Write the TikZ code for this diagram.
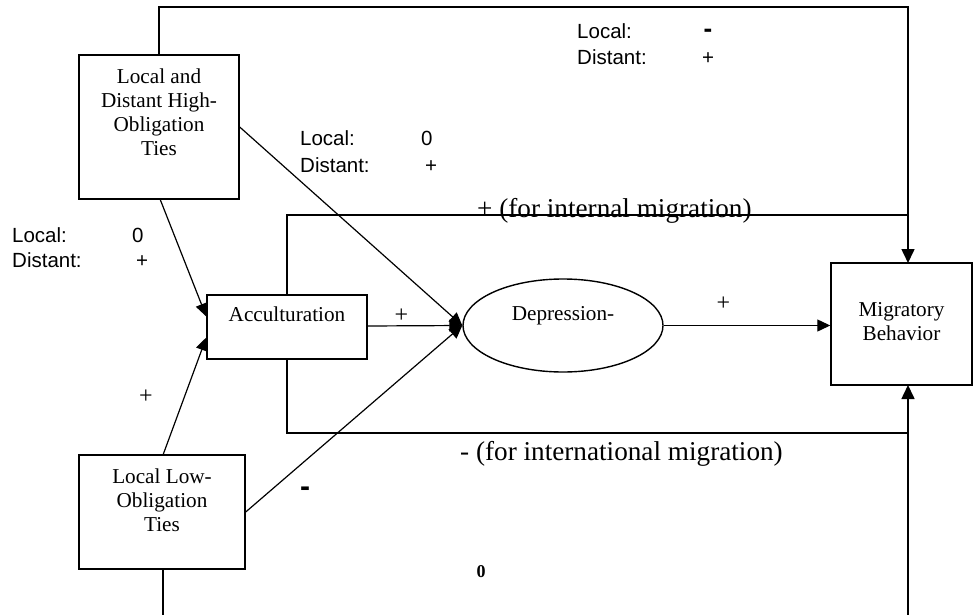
\documentclass[tikz,border=0pt]{standalone}
\usepackage{fontspec}
\setmainfont{Liberation Serif}
\newfontfamily\arialf{Liberation Sans}
\usetikzlibrary{arrows.meta,calc,shapes.geometric}
\begin{document}
\begin{tikzpicture}[x=1pt,y=-1pt,
 boxst/.style={draw,line width=1.4pt,inner sep=0pt},
 boxtext/.style={align=center,font=\fontsize{21.2}{24.2}\selectfont,inner sep=0pt,anchor=north},
 lbl/.style={font=\arialf\fontsize{20.5}{22}\selectfont,inner sep=0pt,anchor=base west},
 sgn/.style={font=\fontsize{24}{26}\selectfont,inner sep=0pt},
 bdash/.style={font=\arialf\bfseries\fontsize{26}{28}\selectfont,inner sep=0pt},
 biglbl/.style={font=\fontsize{27.2}{30}\selectfont,inner sep=0pt,anchor=base west},
 conn/.style={line width=1.2pt},
 thick conn/.style={line width=1.6pt},
 arr/.style={conn,-{Triangle[length=13pt,width=12pt]}},
 thick arr/.style={thick conn,-{Triangle[length=14pt,width=13pt]}}
]
\useasboundingbox (0,0) rectangle (974,615);

% boxes
\node[boxst,minimum width=160pt,minimum height=144pt] (hi) at (159,127) {};
\node[boxtext] (hitxt) at ($(hi.north)+(0,14)$) {Local and\\Distant High-\\Obligation\\Ties};
\node[boxst,minimum width=160pt,minimum height=64pt] (acc) at (287,327) {};
\node[boxtext] (acctxt) at ($(acc.north)+(0,12)$) {Acculturation};
\node[boxst,ellipse,minimum width=200pt,minimum height=93pt] (ell) at (563,325.5) {};
\node[boxtext,anchor=base] (elltxt) at (563,320) {Depression-};
\node[boxst,minimum width=141pt,minimum height=122pt] (mig) at (901.5,324) {};
\node[boxtext] (migtxt) at ($(mig.north)+(0,40)$) {Migratory\\Behavior};
\node[boxst,minimum width=166pt,minimum height=114pt] (lo) at (162,512) {};
\node[boxtext] (lotxt) at ($(lo.north)+(0,14)$) {Local Low-\\Obligation\\Ties};

% helper coordinates
\coordinate (tl) at (159,7);
\coordinate (tr) at (908,7);
\coordinate (migtop) at (908,263);
\coordinate (migbot) at (908,385);
\coordinate (bot1) at (163,615);
\coordinate (bot2) at (908,615);
\coordinate (inA) at ($(acc.north west)!0.34!(acc.south west)$);
\coordinate (inB) at ($(acc.north west)!0.66!(acc.south west)$);
\coordinate (intR) at (908,215);
\coordinate (intlR) at (908,433);

% connectors
\draw[thick arr] (hi.north) -- (tl) -- (tr) -- (migtop);
\draw[arr] (160,199) -- (inA);
\draw[arr] (hi.east |- 0,127) -- (ell.west);
\draw[arr] (163,455) -- (inB);
\draw[arr] (lo.east |- 0,512) -- (ell.west);
\draw[arr] (acc.east |- 0,326) -- (ell.west);
\draw[arr] (ell.east) -- (mig.west |- ell.east);
\draw[thick conn] (acc.north) -- (acc.north |- intR) -- (intR);
\draw[thick conn] (acc.south) -- (acc.south |- intlR) -- (intlR);
\draw[thick conn] (163,569) -- (bot1);
\draw[thick arr] (bot2) -- (migbot);

% labels
\node[lbl] (t1) at (577,39) {Local:};
\node[lbl] (t2) at (577,65) {Distant:};
\node[bdash] (t3) at (708,33) {-};
\node[lbl] (t4) at (702,65) {+};

\node[lbl] (m1) at (300,146) {Local:};
\node[lbl] (m2) at (300,172) {Distant:};
\node[lbl] (m3) at (421,146) {0};
\node[lbl] (m4) at (425,172) {+};

\node[lbl] (s1) at (12,242) {Local:};
\node[lbl] (s2) at (12,267) {Distant:};
\node[lbl] (s3) at (132,242) {0};
\node[lbl] (s4) at (136,267) {+};

\node[sgn] (p1) at (401.5,316) {+};
\node[sgn] (p2) at (723.5,303.5) {+};
\node[sgn] (p3) at (146,397) {+};
\node[bdash,font=\arialf\bfseries\fontsize{30}{32}\selectfont] (p4) at (305,492) {-};
\node[sgn,font=\bfseries\fontsize{18}{20}\selectfont] (z0) at (481,572) {0};

\node[biglbl] (intl) at (477,217) {+ (for internal migration)};
\node[biglbl] (intn) at (460,460) {- (for international migration)};
\end{tikzpicture}
\end{document}
